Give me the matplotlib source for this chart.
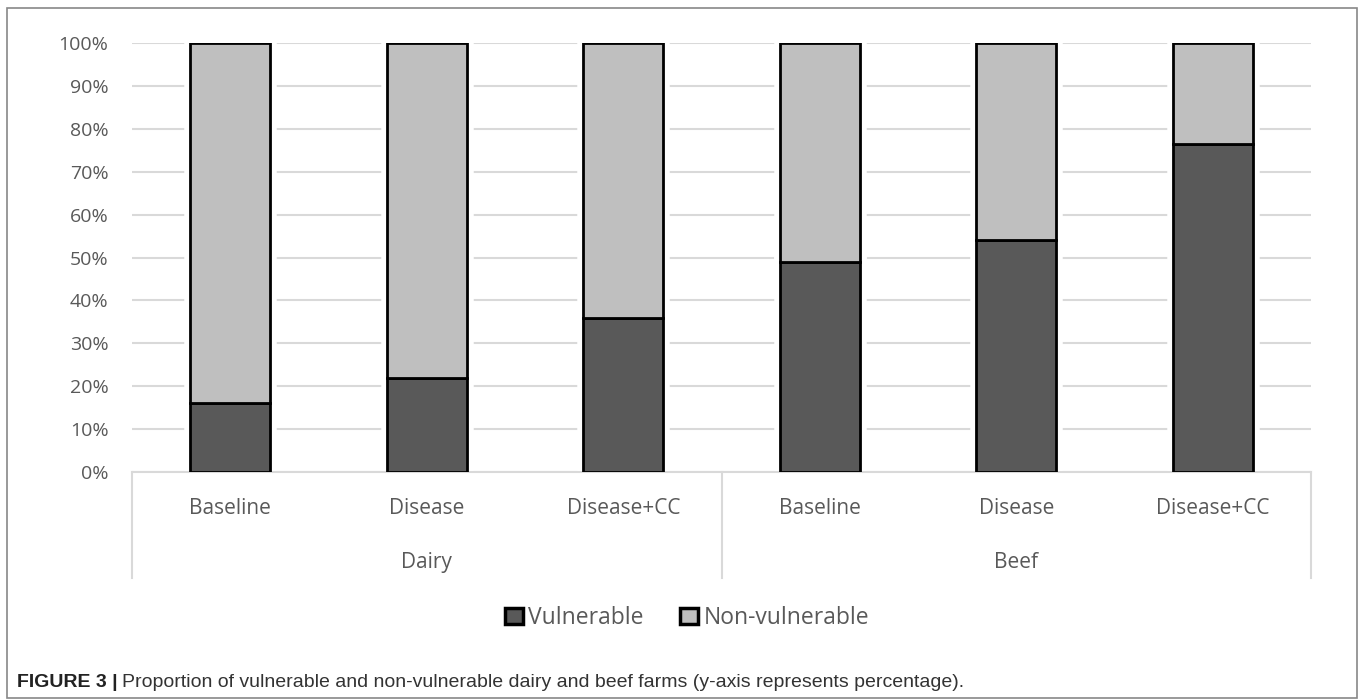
import matplotlib.pyplot as plt
from matplotlib.patches import Rectangle
from matplotlib.lines import Line2D
import numpy as np

# data
groups = ['Dairy', 'Beef']
scenarios = ['Baseline', 'Disease', 'Disease+CC']
vulnerable = [16, 22, 36, 49, 54, 76.5]
non_vulnerable = [100 - v for v in vulnerable]
yticks = [0, 10, 20, 30, 40, 50, 60, 70, 80, 90, 100]

dark = '#595959'
light = '#bfbfbf'
txt = '#595959'
font = 'Open Sans'

fig = plt.figure(figsize=(13.58, 6.99), dpi=100)
ax = fig.add_axes([0.0972, 0.3247, 0.8682, 0.6138])

x = np.arange(len(vulnerable))
w = 0.407

# white halo so gridlines stop short of the bars
ax.bar(x, vulnerable, w, color=dark, edgecolor='white', linewidth=9, zorder=2)
ax.bar(x, non_vulnerable, w, bottom=vulnerable, color=light, edgecolor='white', linewidth=9, zorder=2)
b1 = ax.bar(x, vulnerable, w, color=dark, edgecolor='black', linewidth=2, zorder=3, label='Vulnerable')
b2 = ax.bar(x, non_vulnerable, w, bottom=vulnerable, color=light, edgecolor='black', linewidth=2, zorder=3, label='Non-vulnerable')

ax.set_xlim(-0.5, len(x) - 0.5)
ax.set_ylim(0, 100)
ax.set_yticks(yticks)
ax.set_yticklabels([f'{t}%' for t in yticks], fontfamily=font, fontsize=14, color=txt)
ax.tick_params(axis='y', length=0, pad=17)
ax.set_xticks([])
ax.grid(axis='y', color='#d9d9d9', linewidth=1.5, zorder=0)
ax.set_axisbelow(True)
for s in ['top', 'right', 'left']:
    ax.spines[s].set_visible(False)
ax.spines['bottom'].set_color('#d9d9d9')
ax.spines['bottom'].set_linewidth(1.5)

tr = ax.get_xaxis_transform()
labels = scenarios * len(groups)
for xi, lab in zip(x, labels):
    ax.text(xi, -0.086, lab, transform=tr, ha='center', va='center',
            fontfamily=font, fontsize=15, color=txt)
for gi, g in enumerate(groups):
    ax.text(gi * 3 + 1, -0.212, g, transform=tr, ha='center', va='center',
            fontfamily=font, fontsize=15, color=txt)
for sx in [-0.5, 2.5, 5.5]:
    ax.add_line(Line2D([sx, sx], [0, -0.247], transform=tr, color='#d9d9d9',
                       linewidth=1.5, clip_on=False))

leg = fig.legend(handles=[b1, b2], loc='center', bbox_to_anchor=(0.506, 0.116),
                 ncol=2, frameon=False, handlelength=0.75, handleheight=0.75,
                 handletextpad=0.25, columnspacing=1.6,
                 prop={'family': font, 'size': 16.5})
for t in leg.get_texts():
    t.set_color(txt)
for h in leg.legend_handles:
    h.set_linewidth(2.5)

# outer frame and caption
fig.add_artist(Rectangle((0.005, 0.001), 0.994, 0.988, transform=fig.transFigure,
                         fill=False, edgecolor='#888888', linewidth=1.2))
fig.text(17 / 1358, 0.024, 'FIGURE 3 |', fontfamily='Liberation Sans',
         fontweight='bold', fontsize=14, color='#222222', va='center', ha='left')
fig.text(122 / 1358, 0.024, 'Proportion of vulnerable and non-vulnerable dairy and beef farms (y-axis represents percentage).',
         fontfamily='Liberation Sans', fontsize=14, color='#333333', va='center')

fig.savefig('out.png', dpi=100)
